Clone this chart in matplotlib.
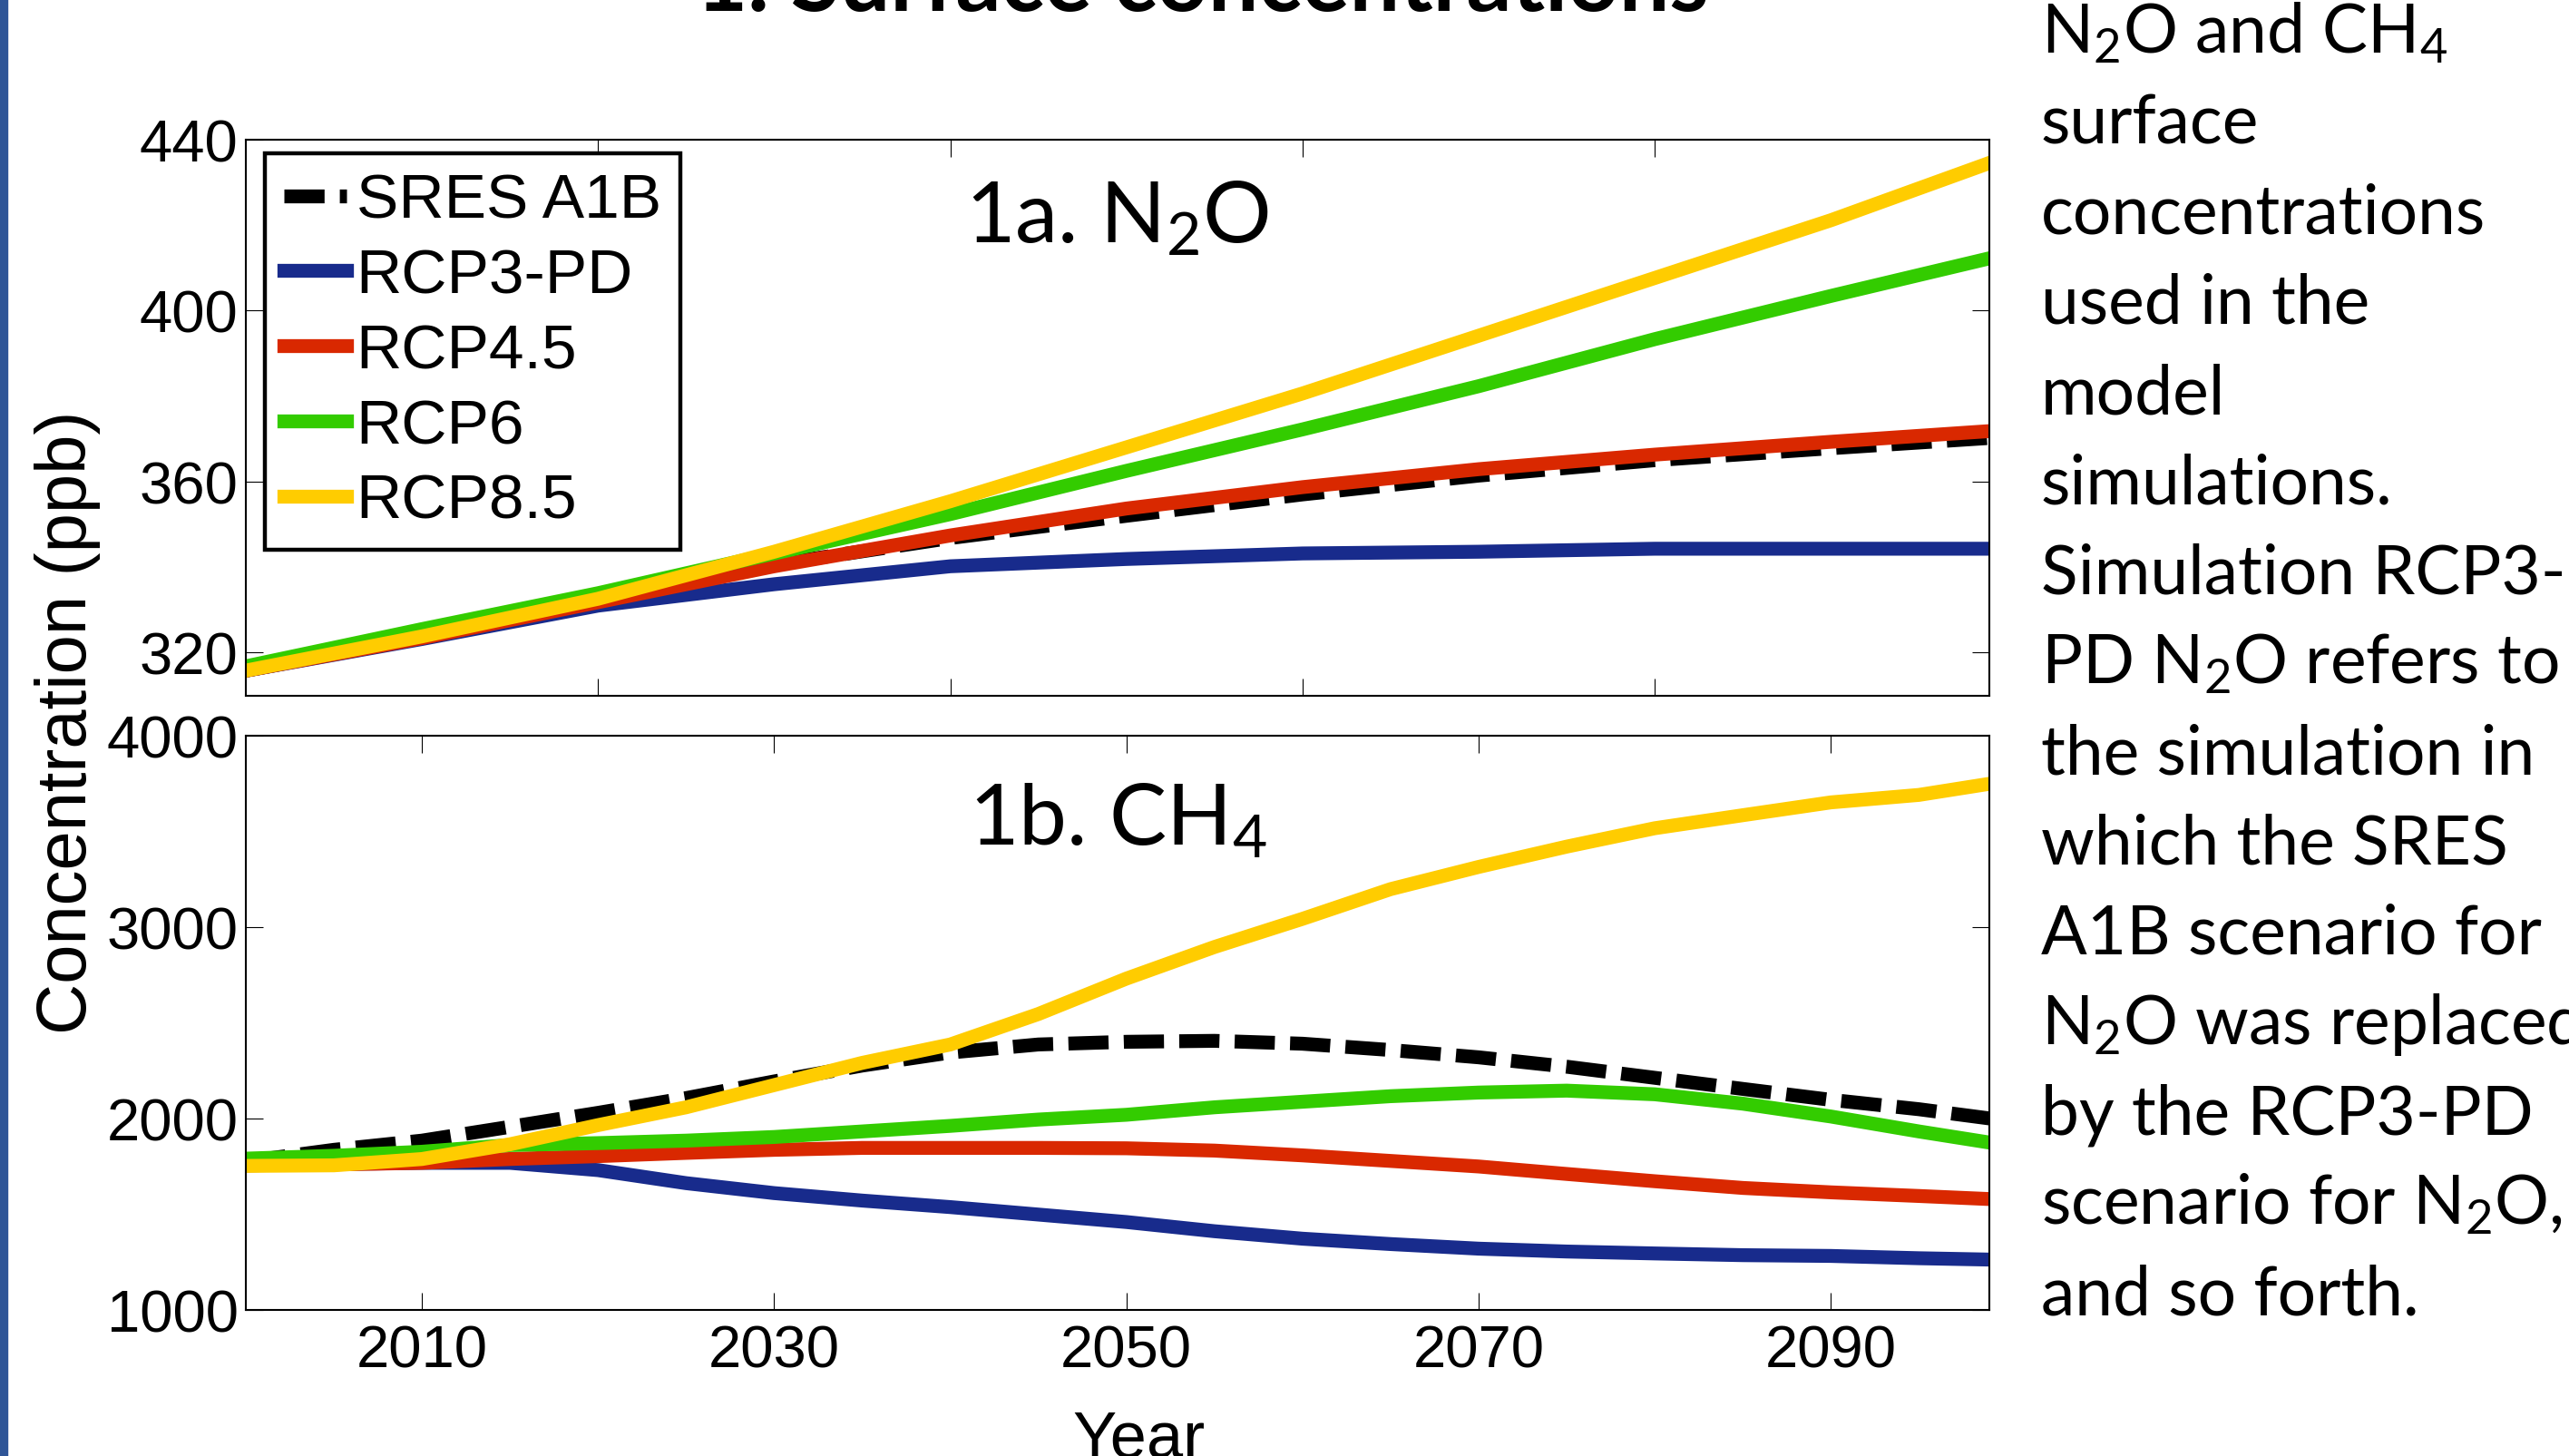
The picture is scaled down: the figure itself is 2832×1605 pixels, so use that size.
import matplotlib
matplotlib.use('Agg')
import matplotlib.pyplot as plt
from matplotlib.patches import Rectangle

# --- data ---
n2o_years = [2000, 2010, 2020, 2030, 2040, 2050, 2060, 2070, 2080, 2090, 2099]
n2o_sres = [315.8, 323.6, 332.2, 340.6, 346.8, 352.0, 357.0, 361.4, 365.0, 367.8, 370.2]
n2o_rcp3pd = [315.8, 323.2, 331.0, 336.0, 340.2, 341.9, 343.2, 343.6, 344.3, 344.3, 344.3]
n2o_rcp45 = [315.8, 323.4, 331.8, 340.2, 347.4, 353.7, 358.7, 362.9, 366.3, 369.3, 371.8]
n2o_rcp6 = [316.8, 325.5, 333.9, 343.2, 352.4, 362.5, 372.2, 382.3, 393.3, 403.4, 412.2]
n2o_rcp85 = [315.8, 323.8, 332.6, 343.6, 355.4, 368.0, 380.6, 394.1, 407.6, 421.1, 434.5]

ch4_years = [2000, 2005, 2010, 2015, 2020, 2025, 2030, 2035, 2040, 2045, 2050,
             2055, 2060, 2065, 2070, 2075, 2080, 2085, 2090, 2095, 2099]
ch4_sres = [1775, 1836, 1884, 1956, 2029, 2106, 2193, 2276, 2344, 2386, 2400,
            2405, 2390, 2357, 2319, 2270, 2212, 2154, 2097, 2048, 2000]
ch4_rcp3pd = [1755, 1762, 1768, 1768, 1730, 1662, 1610, 1571, 1537, 1498, 1459,
              1411, 1372, 1344, 1320, 1305, 1295, 1286, 1282, 1270, 1263]
ch4_rcp45 = [1755, 1760, 1768, 1788, 1803, 1820, 1836, 1846, 1846, 1846, 1844,
             1832, 1807, 1778, 1749, 1710, 1672, 1637, 1614, 1595, 1579]
ch4_rcp6 = [1790, 1805, 1826, 1861, 1871, 1884, 1903, 1932, 1961, 1994, 2019,
            2058, 2087, 2116, 2135, 2145, 2126, 2077, 2010, 1932, 1874]
ch4_rcp85 = [1752, 1755, 1788, 1865, 1965, 2058, 2174, 2290, 2386, 2545, 2730,
             2895, 3042, 3197, 3313, 3419, 3515, 3583, 3650, 3689, 3747]

scenarios = ['SRES A1B', 'RCP3-PD', 'RCP4.5', 'RCP6', 'RCP8.5']
colors = ['black', '#182B8C', '#D92800', '#33CC00', '#FFCC00']

note_lines = [r'N$_2$O and CH$_4$', 'surface', 'concentrations', 'used in the',
              'model', 'simulations.', 'Simulation RCP3-', r'PD N$_2$O refers to',
              'the simulation in', 'which the SRES', 'A1B scenario for',
              r'N$_2$O was replaced', 'by the RCP3-PD', r'scenario for N$_2$O,',
              'and so forth.']

plt.rcParams['font.family'] = 'Liberation Sans'
plt.rcParams['mathtext.fontset'] = 'custom'
plt.rcParams['mathtext.rm'] = 'Lato'
plt.rcParams['mathtext.it'] = 'Lato:italic'
plt.rcParams['mathtext.bf'] = 'Lato:bold'

W, H = 2832, 1606
fig = plt.figure(figsize=(W / 100, H / 100), dpi=100)
fig.patch.set_facecolor('white')

ax1 = fig.add_axes([271 / W, 1 - 767.6 / H, 1922 / W, 612.9 / H])
ax2 = fig.add_axes([271 / W, 1 - 1445 / H, 1922 / W, 633.4 / H])

n2o = [n2o_sres, n2o_rcp3pd, n2o_rcp45, n2o_rcp6, n2o_rcp85]
ch4 = [ch4_sres, ch4_rcp3pd, ch4_rcp45, ch4_rcp6, ch4_rcp85]

lw = 11
for i in range(len(scenarios)):
    l1, = ax1.plot(n2o_years, n2o[i], color=colors[i], lw=lw, label=scenarios[i])
    l2, = ax2.plot(ch4_years, ch4[i], color=colors[i], lw=lw)
    if i == 0:
        l1.set_dashes([2.9, 1.1])
        l2.set_dashes([2.9, 1.1])

for ax in (ax1, ax2):
    ax.set_xlim(2000, 2099)
    ax.tick_params(direction='in', length=14, width=0.8, top=True, right=True,
                   labelsize=47, pad=6)
    for sp in ax.spines.values():
        sp.set_linewidth(1.5)

ax1.set_ylim(310, 440)
ax1.set_yticks([320, 360, 400, 440])
ax1.set_xticks([2020, 2040, 2060, 2080])
ax1.tick_params(labelbottom=False)

ax2.set_ylim(1000, 4000)
ax2.set_yticks([1000, 2000, 3000, 4000])
ax2.set_xticks([2010, 2030, 2050, 2070, 2090])
ax2.tick_params(axis='x', pad=11)

ax1.text(0.5, 0.815, r'1a. N$_2$O', transform=ax1.transAxes, ha='center',
         va='baseline', fontsize=68, family='Lato')
ax2.text(0.5, 0.81, r'1b. CH$_4$', transform=ax2.transAxes, ha='center',
         va='baseline', fontsize=68, family='Lato')

leg = ax1.legend(loc='upper left', bbox_to_anchor=(0.0109, 0.975), borderaxespad=0,
                 fontsize=50, handlelength=1.0, handletextpad=0.15, labelspacing=0.27,
                 borderpad=0.3, fancybox=False, framealpha=1, edgecolor='black')
leg.get_frame().set_linewidth(3.2)

fig.text(75 / W, 0.504, 'Concentration (ppb)', rotation=90, ha='center', va='center',
         fontsize=56)
fig.text(1255 / W, 1 - 1607 / H, 'Year', ha='center', va='baseline', fontsize=52)

# slide title, mostly cut off at the top
fig.text(767 / W, 1 - 12 / H, '1. Surface concentrations', ha='left', va='baseline',
         fontsize=71, family='Lato', weight='bold')

# caption text on the right
for i, line in enumerate(note_lines):
    fig.text(2250 / W, 1 - (59 + 99.3 * i) / H, line, ha='left', va='baseline',
             fontsize=54, family='Lato')

# blue slide border on the left
fig.patches.append(Rectangle((0, 0), 8 / W, 1, transform=fig.transFigure,
                             color='#2F5597', zorder=5))

fig.savefig('out.png', dpi=100)
